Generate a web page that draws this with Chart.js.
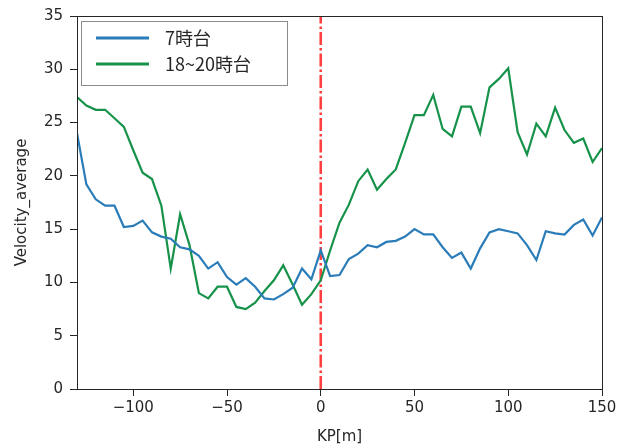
<!DOCTYPE html>
<html>
<head>
<meta charset="utf-8">
<script src="https://cdn.jsdelivr.net/npm/chart.js@4.4.1/dist/chart.umd.min.js"></script>
<style>
  html, body { margin: 0; padding: 0; background: #fff; }
  canvas { display: block; }
</style>
</head>
<body>
<canvas id="velocityChart" width="629" height="448"></canvas>
<script>
// ---- data ----
const KP = [
  -130, -125, -120, -115, -110, -105, -100, -95, -90, -85,
  -80, -75, -70, -65, -60, -55, -50, -45, -40, -35,
  -30, -25, -20, -15, -10, -5, 0, 5, 10, 15,
  20, 25, 30, 35, 40, 45, 50, 55, 60, 65,
  70, 75, 80, 85, 90, 95, 100, 105, 110, 115,
  120, 125, 130, 135, 140, 145, 150
];

const V_7 = [
  24.0, 19.2, 17.8, 17.2, 17.2, 15.2, 15.3, 15.8, 14.7, 14.3,
  14.1, 13.3, 13.1, 12.5, 11.3, 11.9, 10.5, 9.8, 10.4, 9.6,
  8.5, 8.4, 8.9, 9.5, 11.3, 10.3, 13.0, 10.6, 10.7, 12.2,
  12.7, 13.5, 13.3, 13.8, 13.9, 14.3, 15.0, 14.5, 14.5, 13.3,
  12.3, 12.8, 11.3, 13.2, 14.7, 15.0, 14.8, 14.6, 13.5, 12.1,
  14.8, 14.6, 14.5, 15.4, 15.9, 14.4, 16.1
];

const V_18_20 = [
  27.4, 26.6, 26.2, 26.2, 25.4, 24.6, 22.4, 20.3, 19.7, 17.2,
  11.3, 16.4, 13.5, 9.0, 8.5, 9.6, 9.6, 7.7, 7.5, 8.1,
  9.2, 10.2, 11.6, 9.8, 7.9, 8.9, 10.2, 13.0, 15.6, 17.3,
  19.5, 20.6, 18.7, 19.7, 20.6, 23.1, 25.7, 25.7, 27.6, 24.4,
  23.7, 26.5, 26.5, 24.0, 28.3, 29.1, 30.1, 24.1, 22.0, 24.9,
  23.7, 26.4, 24.3, 23.1, 23.5, 21.3, 22.6
];

const SERIES_LABELS = ["7時台", "18~20時台"];
const X_TICKS = [-100, -50, 0, 50, 100, 150];
const X_RANGE = [-130, 150];
const Y_RANGE = [0, 35];
const VLINE_X = 0;

const BLUE = "#2a7cb9";
const GREEN = "#17924a";
const RED = "rgba(255,0,0,0.75)";
const INK = "#262626";
const AXIS_FONT = { family: "'DejaVu Sans', sans-serif", size: 15 };


// ---- frame round the plot (matplotlib style) ----
const framePlugin = {
  id: "frame",
  afterDatasetsDraw(chart) {
    const a = chart.chartArea;
    const ctx = chart.ctx;
    ctx.save();
    ctx.strokeStyle = INK;
    ctx.lineWidth = 1;
    ctx.strokeRect(a.left + 0.5, a.top + 0.5, a.right - a.left, a.bottom - a.top);
    ctx.restore();
  }
};

// ---- boxed legend in the upper left ----
const boxLegendPlugin = {
  id: "boxLegend",
  afterDraw(chart) {
    const a = chart.chartArea;
    const ctx = chart.ctx;
    const items = chart.data.datasets.filter(d => !d.hideInLegend);

    const x0 = a.left + 4, y0 = a.top + 5;
    const w = 206, h = 64;
    const rowH = 26;

    ctx.save();
    ctx.fillStyle = "rgba(255,255,255,0.85)";
    ctx.fillRect(x0, y0, w, h);
    ctx.strokeStyle = "#8c8c8c";
    ctx.lineWidth = 1;
    ctx.strokeRect(x0 + 0.5, y0 + 0.5, w, h);

    ctx.font = "18px 'Noto Sans CJK JP', sans-serif";
    ctx.textBaseline = "middle";
    items.forEach((d, i) => {
      const y = y0 + 17 + i * rowH;
      ctx.strokeStyle = d.borderColor;
      ctx.lineWidth = 3;
      ctx.beginPath();
      ctx.moveTo(x0 + 15, y);
      ctx.lineTo(x0 + 68, y);
      ctx.stroke();
      ctx.fillStyle = INK;
      ctx.fillText(d.label, x0 + 84, y);
    });
    ctx.restore();
  }
};


function toPoints(values) {
  return KP.map((x, i) => ({ x, y: values[i] }));
}


new Chart(document.getElementById("velocityChart"), {

  type: "line",

  data: {
    datasets: [
      {
        label: SERIES_LABELS[0],
        data: toPoints(V_7),
        borderColor: BLUE,
        borderWidth: 2.2,
        pointRadius: 0,
        tension: 0
      },
      {
        label: SERIES_LABELS[1],
        data: toPoints(V_18_20),
        borderColor: GREEN,
        borderWidth: 2.2,
        pointRadius: 0,
        tension: 0
      },
      {
        label: "KP0",
        hideInLegend: true,
        data: [{ x: VLINE_X, y: Y_RANGE[0] }, { x: VLINE_X, y: Y_RANGE[1] }],
        borderColor: RED,
        borderWidth: 2.6,
        borderDash: [13, 3, 2.5, 3],
        pointRadius: 0
      }
    ]
  },

  options: {
    responsive: false,
    animation: false,
    devicePixelRatio: 1,

    layout: {
      padding: { top: 11, right: 27, left: 0, bottom: 0 }
    },

    plugins: {
      legend: { display: false },
      tooltip: { enabled: false }
    },

    scales: {

      x: {
        type: "linear",
        min: X_RANGE[0],
        max: X_RANGE[1],
        afterBuildTicks: scale => {
          scale.ticks = X_TICKS.map(v => ({ value: v }));
        },
        afterFit: scale => {
          scale.height = 59;
        },
        grid: {
          drawOnChartArea: false,
          tickLength: 7,
          color: INK
        },
        border: { color: INK, width: 1 },
        ticks: {
          color: INK,
          font: AXIS_FONT,
          padding: 3,
          maxRotation: 0,
          callback: v => (v < 0 ? "\u2212" + Math.abs(v) : String(v))
        },
        title: {
          display: true,
          text: "KP[m]",
          color: INK,
          font: AXIS_FONT,
          padding: { top: 0, bottom: 2 }
        }
      },

      y: {
        min: Y_RANGE[0],
        max: Y_RANGE[1],
        afterFit: scale => {
          scale.width = 77;
        },
        grid: {
          drawOnChartArea: false,
          tickLength: 7,
          color: INK
        },
        border: { color: INK, width: 1 },
        ticks: {
          stepSize: 5,
          color: INK,
          font: AXIS_FONT,
          padding: 7
        },
        title: {
          display: true,
          text: "Velocity_average",
          color: INK,
          font: AXIS_FONT,
          padding: { top: 13, bottom: 0 }
        }
      }

    }
  },

  plugins: [framePlugin, boxLegendPlugin]

});
</script>
</body>
</html>
